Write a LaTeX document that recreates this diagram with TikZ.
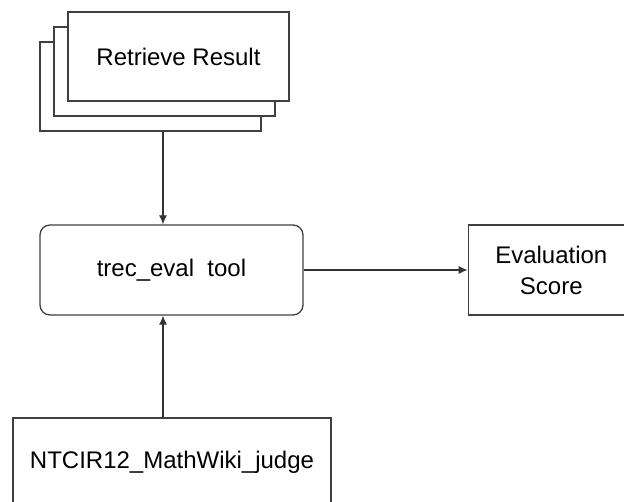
\documentclass[tikz,border=0pt]{standalone}
\usepackage{fontspec}
\setmainfont{Liberation Sans}
\usetikzlibrary{arrows.meta,positioning}

\begin{document}
\begin{tikzpicture}[x=1pt,y=-1pt,
  box/.style={draw=black!75, line width=1.3pt, fill=white, inner sep=0pt,
    minimum width=221pt, minimum height=89pt, font=\fontsize{24}{31}\selectfont},
  arr/.style={-{Latex[length=9pt,width=8pt]}, draw=black!80, line width=1.2pt}]
\clip (0,0) rectangle (624,502);
\fill[white] (0,0) rectangle (624,502);
% stacked result pages
\node[box] (back) at (150.5,86.5) {};
\node[box] (mid) at (164.5,71.5) {};
\node[box] (result) at (178.5,56.5) {Retrieve Result};
% evaluation
\node[box, rounded corners=10pt, minimum width=263pt, minimum height=90pt] (trec) at (171.5,270) {trec\_eval\ \ tool};
\node[box, minimum width=166pt, minimum height=90pt, align=center, right=164pt of trec] (score) {Evaluation\\Score};
\node[box, minimum width=318pt, minimum height=88pt] (judge) at (172,462) {NTCIR12\_MathWiki\_judge};
\draw[arr] ([xshift=-8.5pt]trec.north |- back.south) -- ([xshift=-8.5pt]trec.north);
\draw[arr] ([xshift=-8.5pt]trec.south |- judge.north) -- ([xshift=-8.5pt]trec.south);
\draw[arr] (trec) -- (score);
\end{tikzpicture}
\end{document}
